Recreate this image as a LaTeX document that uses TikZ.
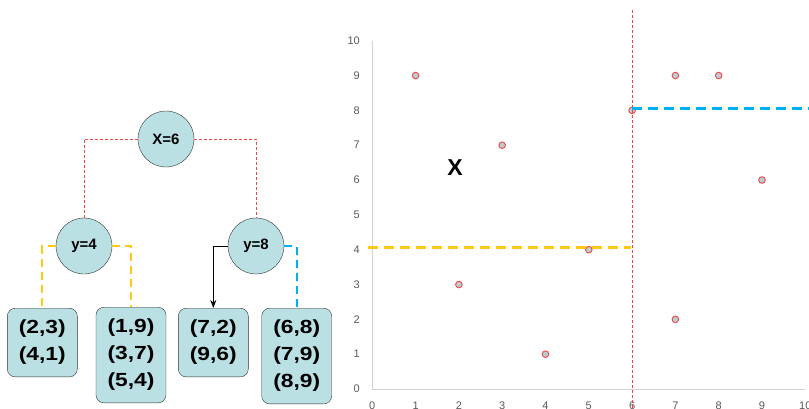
\documentclass[tikz,border=0pt]{standalone}
\usepackage{fontspec}
\setmainfont{Liberation Sans}
\newfontfamily\leaffont[FakeStretch=1.2]{Liberation Sans}
\usetikzlibrary{arrows.meta, positioning, calc}

\definecolor{nodefill}{RGB}{186,224,227}
\definecolor{nodeline}{RGB}{50,50,50}
\definecolor{splitred}{RGB}{240,70,70}
\definecolor{splityellow}{RGB}{255,200,20}
\definecolor{splitblue}{RGB}{0,176,240}
\definecolor{axisgray}{RGB}{210,210,210}
\definecolor{ticktext}{RGB}{89,89,89}
\definecolor{dotfill}{RGB}{185,205,210}

\begin{document}
\begin{tikzpicture}[x=1pt, y=-1pt,
        split/.style={circle, draw=nodeline, fill=nodefill, minimum size=56pt, inner sep=0pt, font=\bfseries\fontsize{15}{18}\selectfont},
        leaf/.style={rectangle, rounded corners=8pt, draw=nodeline, fill=nodefill, minimum width=70pt, anchor=north, align=center, inner ysep=12pt, font=\leaffont\bfseries\fontsize{19}{27}\selectfont},
        redcut/.style={draw=splitred, dash pattern=on 3pt off 2pt, line width=0.9pt},
        yellowcut/.style={draw=splityellow, dash pattern=on 8pt off 5pt, line width=2pt},
        bluecut/.style={draw=splitblue, dash pattern=on 8pt off 5pt, line width=2pt},
        ticklab/.style={text=ticktext, font=\fontsize{11}{13}\selectfont, inner sep=1pt},
        dot/.style={draw=splitred, fill=dotfill, line width=0.9pt}
    ]
    \useasboundingbox (0,0) rectangle (809,408);

    % tree
    \node[split] (root) at (166,139) {X=6};
    \node[split] (yfour) at (84,246) {y=4};
    \node[split] (yeight) at (256,246) {y=8};

    \node[leaf] (leafa) at (42.3,308) {(2,3)\\(4,1)};
    \node[leaf] (leafb) at (131,307) {(1,9)\\(3,7)\\(5,4)};
    \node[leaf] (leafc) at (213.3,308) {(7,2)\\(9,6)};
    \node[leaf] (leafd) at (296.7,308) {(6,8)\\(7,9)\\(8,9)};

    \draw[redcut] (root.west) -| (yfour.north);
    \draw[redcut] (root.east) -| (yeight.north);
    \draw[yellowcut] (yfour.west) -| (leafa.north);
    \draw[yellowcut] (yfour.east) -| (leafb.north);
    \draw[-{Stealth[length=8pt,width=6pt]}, line width=0.9pt] (yeight.west) -| (leafc.north);
    \draw[bluecut] (yeight.east) -| (leafd.north);

    % scatter of the points
    \begin{scope}[shift={(372.3,389)}, x=43.3pt, y=34.83pt]
        \draw[axisgray, line width=1pt] (0,10) -- (0,0) -- (10,0);
        \foreach \v in {0,...,10} {
            \node[ticklab, anchor=east] (ylab\v) at (-0.26,\v) {\v};
            \node[ticklab, anchor=north] (xlab\v) at (\v,-0.33) {\v};
        }
        \foreach \px/\py in {1/9, 2/3, 3/7, 4/1, 5/4, 6/8, 7/9, 8/9, 9/6, 7/2}
            \draw[dot] (\px,\py) circle[radius=3.3pt];

        \node[font=\bfseries\fontsize{23}{23}\selectfont] (regionx) at (1.91,6.37) {X};

        \draw[redcut, line width=1pt] (6,10.88) -- (6,-0.6);
        \draw[yellowcut, line width=3pt, dash pattern=on 10pt off 6pt] (-0.11,4.06) -- (5.97,4.06);
        \draw[bluecut, line width=3pt, dash pattern=on 10pt off 6pt] (5.99,8.06) -- (10.2,8.06);
    \end{scope}
\end{tikzpicture}
\end{document}
